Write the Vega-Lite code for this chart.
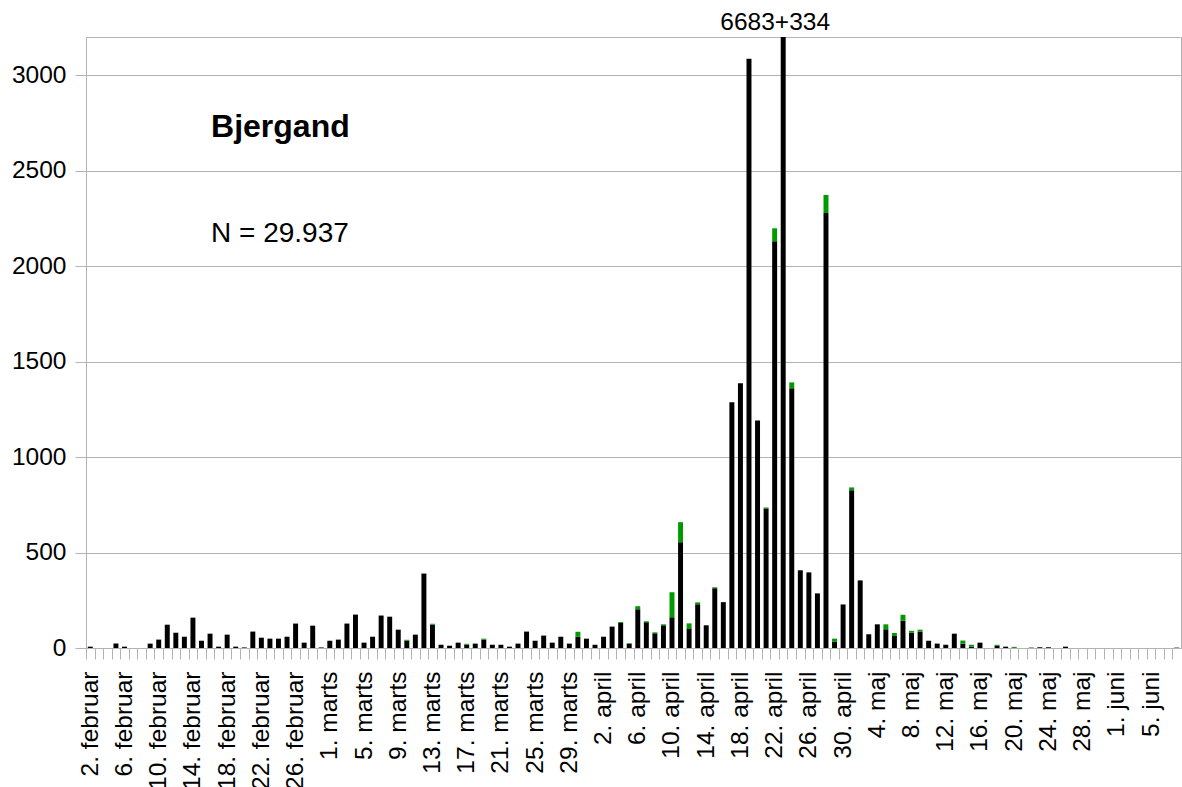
{
  "$schema": "https://vega.github.io/schema/vega-lite/v6.json",
  "width": 1095,
  "height": 611,
  "autosize": {"type": "none"},
  "padding": {"left": 86, "top": 37, "right": 1, "bottom": 139},
  "background": "white",
  "config": {
    "font": "Liberation Sans",
    "view": {"stroke": "#b3b3b3", "strokeWidth": 1},
    "axis": {"labelFont": "Liberation Sans", "labelColor": "#000000", "domainColor": "#b3b3b3", "tickColor": "#b3b3b3", "gridColor": "#b3b3b3"}
  },
  "datasets": {
    "dage": [
      {"dag": 0, "dato": "2. februar", "sort": 7, "groen": 0},
      {"dag": 1, "dato": "3. februar", "sort": 0, "groen": 0},
      {"dag": 2, "dato": "4. februar", "sort": 0, "groen": 0},
      {"dag": 3, "dato": "5. februar", "sort": 23, "groen": 0},
      {"dag": 4, "dato": "6. februar", "sort": 7, "groen": 0},
      {"dag": 5, "dato": "7. februar", "sort": 0, "groen": 0},
      {"dag": 6, "dato": "8. februar", "sort": 0, "groen": 0},
      {"dag": 7, "dato": "9. februar", "sort": 23, "groen": 0},
      {"dag": 8, "dato": "10. februar", "sort": 44, "groen": 0},
      {"dag": 9, "dato": "11. februar", "sort": 122, "groen": 0},
      {"dag": 10, "dato": "12. februar", "sort": 80, "groen": 0},
      {"dag": 11, "dato": "13. februar", "sort": 59, "groen": 0},
      {"dag": 12, "dato": "14. februar", "sort": 159, "groen": 0},
      {"dag": 13, "dato": "15. februar", "sort": 38, "groen": 0},
      {"dag": 14, "dato": "16. februar", "sort": 75, "groen": 0},
      {"dag": 15, "dato": "17. februar", "sort": 7, "groen": 0},
      {"dag": 16, "dato": "18. februar", "sort": 70, "groen": 0},
      {"dag": 17, "dato": "19. februar", "sort": 7, "groen": 0},
      {"dag": 18, "dato": "20. februar", "sort": 3, "groen": 0},
      {"dag": 19, "dato": "21. februar", "sort": 86, "groen": 0},
      {"dag": 20, "dato": "22. februar", "sort": 54, "groen": 0},
      {"dag": 21, "dato": "23. februar", "sort": 49, "groen": 0},
      {"dag": 22, "dato": "24. februar", "sort": 49, "groen": 0},
      {"dag": 23, "dato": "25. februar", "sort": 59, "groen": 0},
      {"dag": 24, "dato": "26. februar", "sort": 128, "groen": 0},
      {"dag": 25, "dato": "27. februar", "sort": 28, "groen": 0},
      {"dag": 26, "dato": "28. februar", "sort": 117, "groen": 0},
      {"dag": 27, "dato": "29. februar", "sort": 3, "groen": 0},
      {"dag": 28, "dato": "1. marts", "sort": 38, "groen": 0},
      {"dag": 29, "dato": "2. marts", "sort": 44, "groen": 0},
      {"dag": 30, "dato": "3. marts", "sort": 128, "groen": 0},
      {"dag": 31, "dato": "4. marts", "sort": 175, "groen": 0},
      {"dag": 32, "dato": "5. marts", "sort": 28, "groen": 0},
      {"dag": 33, "dato": "6. marts", "sort": 59, "groen": 0},
      {"dag": 34, "dato": "7. marts", "sort": 170, "groen": 0},
      {"dag": 35, "dato": "8. marts", "sort": 164, "groen": 0},
      {"dag": 36, "dato": "9. marts", "sort": 96, "groen": 0},
      {"dag": 37, "dato": "10. marts", "sort": 38, "groen": 5},
      {"dag": 38, "dato": "11. marts", "sort": 70, "groen": 0},
      {"dag": 39, "dato": "12. marts", "sort": 390, "groen": 0},
      {"dag": 40, "dato": "13. marts", "sort": 122, "groen": 5},
      {"dag": 41, "dato": "14. marts", "sort": 17, "groen": 0},
      {"dag": 42, "dato": "15. marts", "sort": 12, "groen": 0},
      {"dag": 43, "dato": "16. marts", "sort": 28, "groen": 0},
      {"dag": 44, "dato": "17. marts", "sort": 17, "groen": 5},
      {"dag": 45, "dato": "18. marts", "sort": 23, "groen": 0},
      {"dag": 46, "dato": "19. marts", "sort": 44, "groen": 5},
      {"dag": 47, "dato": "20. marts", "sort": 17, "groen": 0},
      {"dag": 48, "dato": "21. marts", "sort": 17, "groen": 0},
      {"dag": 49, "dato": "22. marts", "sort": 7, "groen": 0},
      {"dag": 50, "dato": "23. marts", "sort": 23, "groen": 0},
      {"dag": 51, "dato": "24. marts", "sort": 86, "groen": 0},
      {"dag": 52, "dato": "25. marts", "sort": 38, "groen": 0},
      {"dag": 53, "dato": "26. marts", "sort": 65, "groen": 0},
      {"dag": 54, "dato": "27. marts", "sort": 28, "groen": 0},
      {"dag": 55, "dato": "28. marts", "sort": 59, "groen": 0},
      {"dag": 56, "dato": "29. marts", "sort": 23, "groen": 0},
      {"dag": 57, "dato": "30. marts", "sort": 59, "groen": 26},
      {"dag": 58, "dato": "31. marts", "sort": 49, "groen": 0},
      {"dag": 59, "dato": "1. april", "sort": 17, "groen": 0},
      {"dag": 60, "dato": "2. april", "sort": 59, "groen": 0},
      {"dag": 61, "dato": "3. april", "sort": 112, "groen": 0},
      {"dag": 62, "dato": "4. april", "sort": 131, "groen": 5},
      {"dag": 63, "dato": "5. april", "sort": 21, "groen": 4},
      {"dag": 64, "dato": "6. april", "sort": 203, "groen": 16},
      {"dag": 65, "dato": "7. april", "sort": 135, "groen": 5},
      {"dag": 66, "dato": "8. april", "sort": 77, "groen": 5},
      {"dag": 67, "dato": "9. april", "sort": 119, "groen": 5},
      {"dag": 68, "dato": "10. april", "sort": 161, "groen": 131},
      {"dag": 69, "dato": "11. april", "sort": 554, "groen": 105},
      {"dag": 70, "dato": "12. april", "sort": 103, "groen": 26},
      {"dag": 71, "dato": "13. april", "sort": 229, "groen": 10},
      {"dag": 72, "dato": "14. april", "sort": 119, "groen": 0},
      {"dag": 73, "dato": "15. april", "sort": 313, "groen": 5},
      {"dag": 74, "dato": "16. april", "sort": 240, "groen": 0},
      {"dag": 75, "dato": "17. april", "sort": 1287, "groen": 0},
      {"dag": 76, "dato": "18. april", "sort": 1386, "groen": 0},
      {"dag": 77, "dato": "19. april", "sort": 3086, "groen": 0},
      {"dag": 78, "dato": "20. april", "sort": 1192, "groen": 0},
      {"dag": 79, "dato": "21. april", "sort": 730, "groen": 6},
      {"dag": 80, "dato": "22. april", "sort": 2130, "groen": 68},
      {"dag": 81, "dato": "23. april", "sort": 6683, "groen": 334},
      {"dag": 82, "dato": "24. april", "sort": 1360, "groen": 31},
      {"dag": 83, "dato": "25. april", "sort": 407, "groen": 0},
      {"dag": 84, "dato": "26. april", "sort": 396, "groen": 0},
      {"dag": 85, "dato": "27. april", "sort": 286, "groen": 0},
      {"dag": 86, "dato": "28. april", "sort": 2278, "groen": 95},
      {"dag": 87, "dato": "29. april", "sort": 34, "groen": 15},
      {"dag": 88, "dato": "30. april", "sort": 228, "groen": 0},
      {"dag": 89, "dato": "1. maj", "sort": 826, "groen": 15},
      {"dag": 90, "dato": "2. maj", "sort": 354, "groen": 0},
      {"dag": 91, "dato": "3. maj", "sort": 72, "groen": 0},
      {"dag": 92, "dato": "4. maj", "sort": 124, "groen": 0},
      {"dag": 93, "dato": "5. maj", "sort": 98, "groen": 26},
      {"dag": 94, "dato": "6. maj", "sort": 63, "groen": 16},
      {"dag": 95, "dato": "7. maj", "sort": 143, "groen": 31},
      {"dag": 96, "dato": "8. maj", "sort": 80, "groen": 10},
      {"dag": 97, "dato": "9. maj", "sort": 86, "groen": 10},
      {"dag": 98, "dato": "10. maj", "sort": 38, "groen": 0},
      {"dag": 99, "dato": "11. maj", "sort": 23, "groen": 0},
      {"dag": 100, "dato": "12. maj", "sort": 17, "groen": 0},
      {"dag": 101, "dato": "13. maj", "sort": 75, "groen": 0},
      {"dag": 102, "dato": "14. maj", "sort": 23, "groen": 16},
      {"dag": 103, "dato": "15. maj", "sort": 7, "groen": 10},
      {"dag": 104, "dato": "16. maj", "sort": 28, "groen": 0},
      {"dag": 105, "dato": "17. maj", "sort": 0, "groen": 0},
      {"dag": 106, "dato": "18. maj", "sort": 12, "groen": 5},
      {"dag": 107, "dato": "19. maj", "sort": 7, "groen": 0},
      {"dag": 108, "dato": "20. maj", "sort": 3, "groen": 3},
      {"dag": 109, "dato": "21. maj", "sort": 0, "groen": 0},
      {"dag": 110, "dato": "22. maj", "sort": 2, "groen": 0},
      {"dag": 111, "dato": "23. maj", "sort": 4, "groen": 0},
      {"dag": 112, "dato": "24. maj", "sort": 4, "groen": 0},
      {"dag": 113, "dato": "25. maj", "sort": 0, "groen": 0},
      {"dag": 114, "dato": "26. maj", "sort": 7, "groen": 0},
      {"dag": 115, "dato": "27. maj", "sort": 0, "groen": 0},
      {"dag": 116, "dato": "28. maj", "sort": 0, "groen": 0},
      {"dag": 117, "dato": "29. maj", "sort": 0, "groen": 0},
      {"dag": 118, "dato": "30. maj", "sort": 0, "groen": 0},
      {"dag": 119, "dato": "31. maj", "sort": 0, "groen": 0},
      {"dag": 120, "dato": "1. juni", "sort": 0, "groen": 0},
      {"dag": 121, "dato": "2. juni", "sort": 0, "groen": 0},
      {"dag": 122, "dato": "3. juni", "sort": 0, "groen": 0},
      {"dag": 123, "dato": "4. juni", "sort": 0, "groen": 0},
      {"dag": 124, "dato": "5. juni", "sort": 0, "groen": 0},
      {"dag": 125, "dato": "6. juni", "sort": 0, "groen": 0},
      {"dag": 126, "dato": "7. juni", "sort": 0, "groen": 0},
      {"dag": 127, "dato": "8. juni", "sort": 2, "groen": 0}
    ]
  },
  "layer": [
    {
      "data": {"name": "dage"},
      "transform": [{"fold": ["sort", "groen"], "as": ["art", "antal"]}],
      "mark": {"type": "bar", "clip": true},
      "encoding": {
        "x": {
          "field": "dag",
          "type": "ordinal",
          "scale": {"paddingInner": 0.42, "paddingOuter": 0.21},
          "axis": {
            "title": null,
            "labelAngle": -90,
            "labelAlign": "right",
            "labelBaseline": "middle",
            "labelFontSize": 24.5,
            "labelPadding": 12,
            "labelOverlap": false,
            "tickSize": 11,
            "tickOffset": -4.277,
            "labelOffset": 4.277,
            "grid": false,
            "labelExpr": "datum.value % 4 == 0 ? date(datetime(2024, 1, 2 + datum.value)) + '. ' + ['januar','februar','marts','april','maj','juni','juli'][month(datetime(2024, 1, 2 + datum.value))] : ''"
          }
        },
        "y": {
          "field": "antal",
          "type": "quantitative",
          "stack": "zero",
          "scale": {"domain": [0, 3200], "clamp": true, "nice": false},
          "axis": {
            "title": null,
            "values": [0, 500, 1000, 1500, 2000, 2500, 3000],
            "labelFontSize": 24.5,
            "labelPadding": 9,
            "tickSize": 11,
            "grid": true,
            "format": "d"
          }
        },
        "color": {
          "field": "art",
          "type": "nominal",
          "scale": {"domain": ["sort", "groen"], "range": ["#000000", "#009a00"]},
          "legend": null
        },
        "order": {"field": "art", "sort": "descending"}
      }
    },
    {
      "data": {"values": [{"dag": 81, "antal": 3200, "tekst": "6683+334"}]},
      "mark": {"type": "text", "fontSize": 24.5, "align": "center", "baseline": "alphabetic", "dx": -8, "dy": -7, "color": "#000000"},
      "encoding": {
        "x": {"field": "dag", "type": "ordinal"},
        "y": {"field": "antal", "type": "quantitative"},
        "text": {"field": "tekst"}
      }
    },
    {
      "data": {"values": [{"dag": 14, "antal": 2675, "tekst": "Bjergand"}]},
      "mark": {"type": "text", "fontSize": 32, "fontWeight": "bold", "align": "left", "baseline": "alphabetic", "dx": 1, "color": "#000000"},
      "encoding": {
        "x": {"field": "dag", "type": "ordinal"},
        "y": {"field": "antal", "type": "quantitative"},
        "text": {"field": "tekst"}
      }
    },
    {
      "data": {"values": [{"dag": 14, "antal": 2128, "tekst": "N = 29.937"}]},
      "mark": {"type": "text", "fontSize": 28, "align": "left", "baseline": "alphabetic", "dx": 1, "color": "#000000"},
      "encoding": {
        "x": {"field": "dag", "type": "ordinal"},
        "y": {"field": "antal", "type": "quantitative"},
        "text": {"field": "tekst"}
      }
    }
  ]
}
